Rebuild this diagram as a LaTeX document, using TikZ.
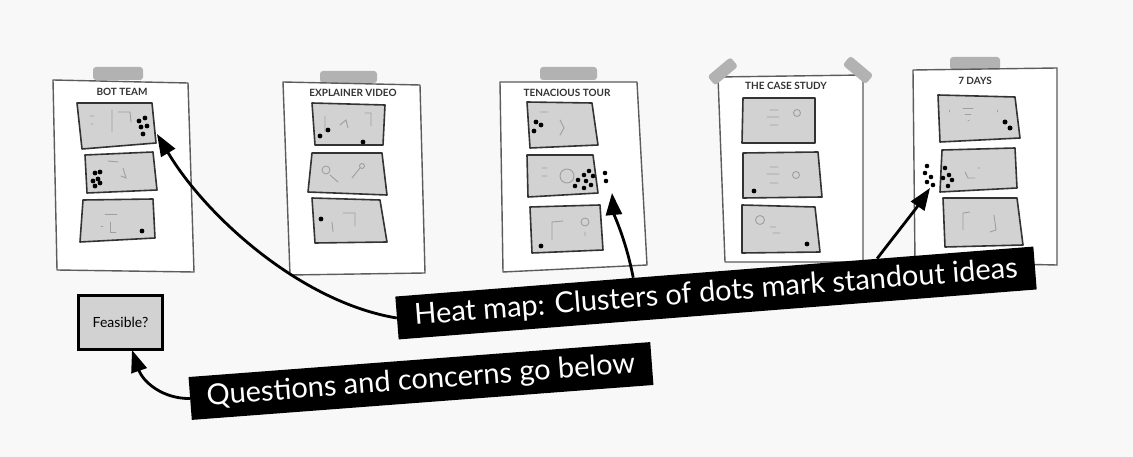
\documentclass[tikz,border=0pt]{standalone}
\usepackage{fontspec}
\setmainfont{Lato}
\usetikzlibrary{arrows.meta,calc}
\definecolor{bg}{HTML}{F8F8F8}
\definecolor{cardfill}{HTML}{D2D2D2}
\definecolor{edge}{HTML}{333333}
\definecolor{tape}{HTML}{B2B2B2}
\pgfdeclarelayer{back}
\pgfdeclarelayer{arrowlayer}
\pgfsetlayers{back,arrowlayer,main}
\begin{document}
\begin{tikzpicture}[x=1pt,y=-1pt,
  sheet/.style={draw=edge!80, line width=1.4pt, fill=white, line join=round},
  card/.style={draw=edge, line width=1.6pt, fill=cardfill, line join=round},
  tapestrip/.style={fill=tape, rounded corners=3pt},
  scrib/.style={draw=gray!75, line width=0.9pt, line cap=round},
  title/.style={font=\fontsize{10}{10}\selectfont\bfseries, text=edge, inner sep=0pt},
  banner/.style={fill=black, text=white, font=\fontsize{29}{32}\selectfont, inner sep=0pt, minimum height=43pt},
  arrowline/.style={draw=black, line width=2.8pt, -{Triangle[length=22pt,width=16pt]}},
  blob/.style={fill=black}
]
\begin{pgfonlayer}{back}
\fill[bg] (0,0) rectangle (1133,457);
\useasboundingbox (0,0) rectangle (1133,457);

% ---------- poster 1: BOT TEAM
\fill[tapestrip] (93,67) rectangle (143,80);
\draw[sheet] (53,80) -- (188,83) -- (194,272) -- (57,270) -- cycle;
\node[title] (t1) at (122,92) {BOT TEAM};
\draw[card] (77,103) -- (152,103) -- (156,143) -- (82,149) -- cycle;
\draw[card] (85,155) -- (153,152) -- (157,190) -- (87,193) -- cycle;
\draw[card] (83,200) -- (153,199) -- (155,238) -- (80,242) -- cycle;
\draw[scrib] (90,116) -- (94,116) (91,124) -- (93,124) (112,110) -- (112,132) (118,112) -- (130,112) -- (131,122);
\draw[scrib] (108,161) -- (118,162) (123,168) -- (126,178) -- (121,176);
\draw[scrib] (105,214) -- (117,214) (110,222) -- (110,232) -- (116,232) (101,226) -- (103,226);
\foreach \p in {(139,121),(145,118),(141,127),(147,126),(143,134)} \fill[blob] \p circle (2.4);
\foreach \p in {(95,173),(100,172),(98,179),(93,181),(100,183),(95,186)} \fill[blob] \p circle (2.4);
\fill[blob] (142,231) circle (2.4);

% ---------- poster 2: EXPLAINER VIDEO
\fill[tapestrip] (320,71) rectangle (377,83);
\draw[sheet] (283,82) -- (420,85) -- (425,273) -- (290,275) -- cycle;
\node[title] (t2) at (353,93) {EXPLAINER VIDEO};
\draw[card] (312,103) -- (385,105) -- (383,145) -- (315,145) -- cycle;
\draw[card] (312,153) -- (382,153) -- (387,195) -- (308,192) -- cycle;
\draw[card] (312,198) -- (380,200) -- (387,242) -- (315,243) -- cycle;
\draw[scrib] (325,116) -- (325,132) (340,125) -- (346,120) -- (348,128) (365,113) -- (371,113) -- (371,126);
\draw[scrib] (326,170) circle (4) (330,175) -- (338,182) (352,178) -- (360,168) (362,166) circle (2.5);
\draw[scrib] (343,213) -- (355,213) -- (355,226) (332,222) -- (333,232);
\foreach \p in {(320,136),(328,130),(363,142)} \fill[blob] \p circle (2.4);
\fill[blob] (321,219) circle (2.4);

% ---------- poster 3: TENACIOUS TOUR
\fill[tapestrip] (540,67) rectangle (597,80);
\draw[sheet] (500,82) -- (637,82) -- (647,265) -- (503,272) -- cycle;
\node[title] (t3) at (567,93) {TENACIOUS TOUR};
\draw[card] (527,102) -- (592,103) -- (598,145) -- (530,148) -- cycle;
\draw[card] (527,155) -- (593,155) -- (598,193) -- (528,197) -- cycle;
\draw[card] (530,207) -- (600,205) -- (603,250) -- (532,253) -- cycle;
\draw[scrib] (540,112) -- (548,112) (560,120) -- (564,128) -- (560,135);
\draw[scrib] (542,168) -- (547,168) (542,176) -- (547,176) (567,176) circle (7);
\draw[scrib] (552,222) -- (552,240) (552,222) -- (563,221) (585,222) circle (4) (585,232) -- (585,236);
\foreach \p in {(536,122),(541,125),(534,131)} \fill[blob] \p circle (2.4);
\foreach \p in {(589,171),(584,175),(593,176),(578,180),(586,181),(591,185),(575,186),(584,188),(605,173),(606,181)} \fill[blob] \p circle (2.3);
\fill[blob] (541,246) circle (2.4);

% ---------- poster 4: THE CASE STUDY
\draw[sheet] (718,77) -- (863,75) -- (863,262) -- (725,262) -- cycle;
\fill[tapestrip, rotate around={40:(722,72)}] (708,66) rectangle (738,78);
\fill[tapestrip, rotate around={-40:(858,70)}] (843,64) rectangle (873,76);
\node[title] (t4) at (786,86) {THE CASE STUDY};
\draw[card] (743,98) -- (815,98) -- (815,143) -- (742,143) -- cycle;
\draw[card] (743,153) -- (818,152) -- (822,197) -- (743,198) -- cycle;
\draw[card] (742,205) -- (815,207) -- (820,252) -- (742,253) -- cycle;
\draw[scrib] (770,110) -- (778,110) (767,117) -- (779,117) (770,125) -- (778,125) (797,113) circle (3.5);
\draw[scrib] (770,167) -- (778,167) (767,174) -- (779,174) (770,183) -- (778,183) (796,175) circle (3.5);
\draw[scrib] (760,220) circle (4.5) (770,227) -- (776,227) (773,233) -- (780,233);
\fill[blob] (754,191) circle (2.4);
\fill[blob] (807,244) circle (2.4);

% ---------- poster 5: 7 DAYS
\fill[tapestrip] (950,57) rectangle (1000,70);
\draw[sheet] (913,70) -- (1057,68) -- (1057,265) -- (915,262) -- cycle;
\node[title] (t5) at (975,81) {7 DAYS};
\draw[card] (938,95) -- (1015,97) -- (1020,138) -- (940,142) -- cycle;
\draw[card] (942,150) -- (1015,148) -- (1017,188) -- (940,192) -- cycle;
\draw[card] (943,198) -- (1017,198) -- (1023,245) -- (945,247) -- cycle;
\draw[scrib] (963,108) -- (973,108) (965,114) -- (971,114) (968,120) -- (969,120) (949,110) -- (949,112) (997,110) -- (997,112);
\draw[scrib] (965,172) -- (968,178) -- (975,178) (978,168) -- (980,168);
\draw[scrib] (963,213) -- (970,212) (963,213) -- (963,230) (994,215) -- (996,230) -- (990,232);
\foreach \p in {(1005,122),(1010,128)} \fill[blob] \p circle (2.5);
\foreach \p in {(927,166),(925,173),(931,177),(927,182),(933,185),(945,168),(949,175),(943,178),(952,180),(948,186)} \fill[blob] \p circle (2.3);
\end{pgfonlayer}

% ---------- Feasible? sticky
\node[draw=black, line width=2.2pt, fill=cardfill, minimum width=84pt, minimum height=54pt,
      font=\fontsize{14}{14}\selectfont, inner sep=0pt] (feas) at (120.5,322.5) {Feasible?};

% ---------- arrow targets
\coordinate (tip1) at (157,134);
\coordinate (tip2) at (612,193);
\coordinate (tip3) at (930,188);
\coordinate (tip4) at (132,350);

% ---------- banners
\node[banner, minimum width=640pt, rotate=4.48] (heat) at (716,293)
  {Heat map: Clusters of dots mark standout ideas};
\node[banner, minimum width=463pt, rotate=4.33] (quest) at (421,381)
  {Questions and concerns go below};

% ---------- arrows (under the banners)
\begin{pgfonlayer}{arrowlayer}
\draw[arrowline] (heat.west) .. controls (300,302) and (205,215) .. (tip1);
\draw[arrowline] ($(heat.north west)!0.373!(heat.north east)$) .. controls (626,240) and (614,215) .. (tip2);
\draw[arrowline] ($(heat.north west)!0.755!(heat.north east)$) .. controls (896,234) and (915,210) .. (tip3);
\draw[arrowline] (quest.west) .. controls (163,399) and (143,382) .. (tip4);
\end{pgfonlayer}
\end{tikzpicture}
\end{document}
